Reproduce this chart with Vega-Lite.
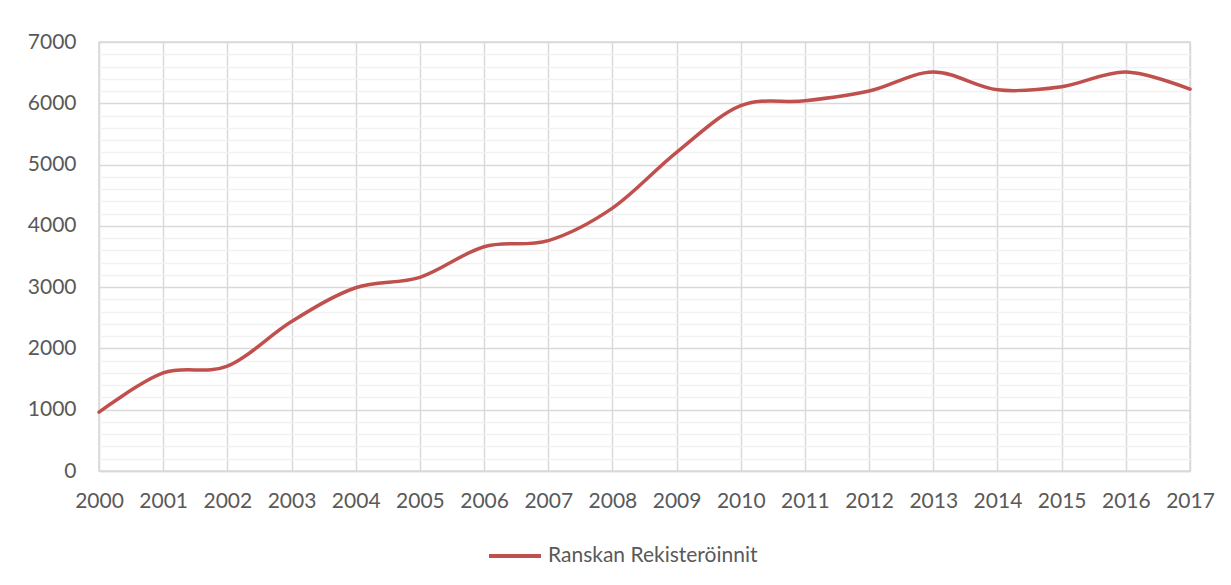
{
  "$schema": "https://vega.github.io/schema/vega-lite/v6.json",
  "width": 1091,
  "height": 429,
  "autosize": {"type": "none"},
  "padding": {"left": 99, "top": 42, "right": 41, "bottom": 114},
  "background": "white",
  "config": {
    "font": "Lato",
    "view": {"stroke": "#d9d9d9", "strokeWidth": 1.5}
  },
  "data": {
    "values": [
      {"year": 2000, "value": 960},
      {"year": 2001, "value": 1600},
      {"year": 2002, "value": 1710},
      {"year": 2003, "value": 2440},
      {"year": 2004, "value": 2990},
      {"year": 2005, "value": 3160},
      {"year": 2006, "value": 3660},
      {"year": 2007, "value": 3760},
      {"year": 2008, "value": 4290},
      {"year": 2009, "value": 5200},
      {"year": 2010, "value": 5960},
      {"year": 2011, "value": 6040},
      {"year": 2012, "value": 6200},
      {"year": 2013, "value": 6510},
      {"year": 2014, "value": 6220},
      {"year": 2015, "value": 6270},
      {"year": 2016, "value": 6510},
      {"year": 2017, "value": 6230}
    ]
  },
  "mark": {"type": "line", "interpolate": "cardinal", "strokeWidth": 3.5, "strokeCap": "round"},
  "encoding": {
    "x": {
      "field": "year",
      "type": "quantitative",
      "scale": {"domain": [2000, 2017], "nice": false, "zero": false},
      "axis": {
        "title": null,
        "values": [2000,2001,2002,2003,2004,2005,2006,2007,2008,2009,2010,2011,2012,2013,2014,2015,2016,2017],
        "format": "d",
        "ticks": false,
        "domainColor": "#d9d9d9",
        "domainWidth": 1.5,
        "gridColor": "#d9d9d9",
        "gridWidth": 1.5,
        "labelFontSize": 21,
        "labelColor": "#595959",
        "labelPadding": 19,
        "labelFlush": false
      }
    },
    "y": {
      "field": "value",
      "type": "quantitative",
      "scale": {"domain": [0, 7000], "nice": false},
      "axis": {
        "title": null,
        "values": [0,200,400,600,800,1000,1200,1400,1600,1800,2000,2200,2400,2600,2800,3000,3200,3400,3600,3800,4000,4200,4400,4600,4800,5000,5200,5400,5600,5800,6000,6200,6400,6600,6800,7000],
        "format": "d",
        "labelExpr": "datum.value % 1000 === 0 ? datum.label : ''",
        "ticks": false,
        "domain": false,
        "gridColor": {"condition": {"test": "datum.value % 1000 === 0", "value": "#d9d9d9"}, "value": "#f2f2f2"},
        "gridWidth": 1.5,
        "labelFontSize": 21,
        "labelColor": "#595959",
        "labelPadding": 23
      }
    },
    "color": {
      "datum": "Ranskan Rekisteröinnit",
      "type": "nominal",
      "scale": {"range": ["#C0504D"]},
      "legend": {
        "title": null,
        "orient": "none",
        "legendX": 388,
        "legendY": 486,
        "padding": 0,
        "symbolType": "stroke",
        "symbolSize": 2700,
        "symbolStrokeWidth": 4,
        "labelFontSize": 21,
        "labelColor": "#595959",
        "labelOffset": 5,
        "labelLimit": 0
      }
    }
  }
}
